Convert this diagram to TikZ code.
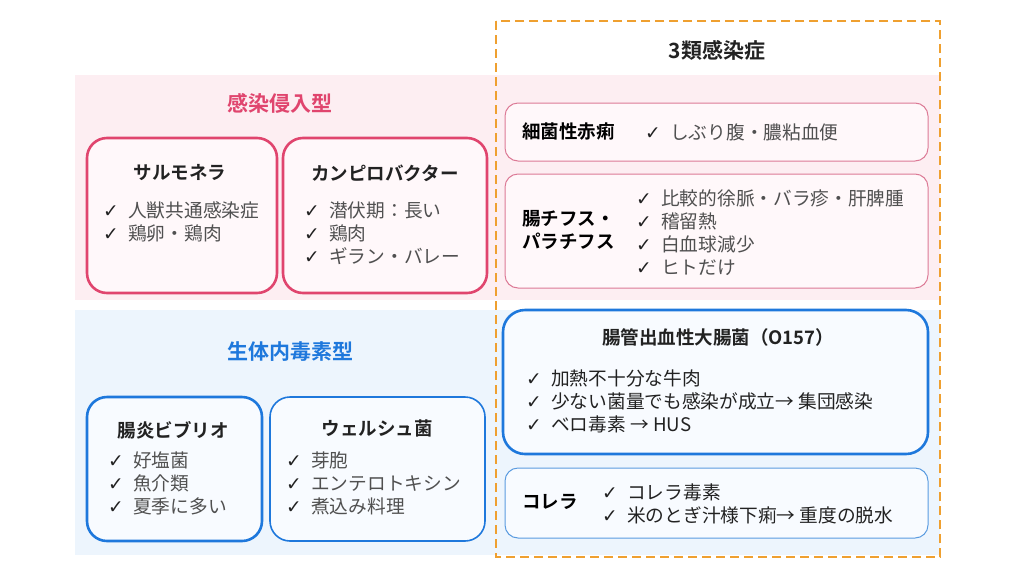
\documentclass[tikz,border=0pt]{standalone}
\usepackage{fontspec}
\setmainfont{Noto Sans CJK JP}[BoldFont={Noto Sans CJK JP Bold}]
\newfontfamily\chkfont{DejaVu Sans}
\definecolor{chkcol}{HTML}{222222}
\newcommand{\ck}{{\chkfont\color{chkcol}✓}\hspace{0.5em}}
\definecolor{pinkbg}{HTML}{FDEEF2}
\definecolor{bluebg}{HTML}{EDF5FD}
\definecolor{pinkln}{HTML}{E0456E}
\definecolor{pinkthin}{HTML}{DC7A96}
\definecolor{blueln}{HTML}{1E78DC}
\definecolor{bluethin}{HTML}{5A9BE0}
\definecolor{pinkfill}{HTML}{FFF8FA}
\definecolor{bluefill}{HTML}{F8FBFF}
\definecolor{orangeln}{HTML}{EFA030}
\definecolor{itemtxt}{HTML}{505050}
\definecolor{headtxt}{HTML}{222222}
\begin{document}
\begin{tikzpicture}[x=1pt,y=-1pt,
  pinkcard/.style={draw=pinkln,line width=2.6pt,fill=pinkfill,rounded corners=20pt},
  bluecard/.style={draw=blueln,line width=2.6pt,fill=bluefill,rounded corners=20pt},
  bluecardthin/.style={draw=blueln,line width=1.6pt,fill=bluefill,rounded corners=20pt},
  pinkrow/.style={draw=pinkthin,line width=1pt,fill=pinkfill,rounded corners=13pt},
  bluerow/.style={draw=bluethin,line width=1pt,fill=bluefill,rounded corners=13pt},
  bigbluecard/.style={draw=blueln,line width=2.6pt,fill=bluefill,rounded corners=22pt},
  sectitle/.style={font=\fontsize{21}{24}\selectfont\bfseries,inner sep=0pt},
  cardtitle/.style={font=\fontsize{18.5}{22}\selectfont\bfseries,text=headtxt,inner sep=0pt},
  items/.style={font=\fontsize{18.7}{23}\selectfont,text=itemtxt,align=left,anchor=west,inner sep=0pt},
  itemsdark/.style={items,text=headtxt},
  rowlabel/.style={font=\fontsize{18.5}{23}\selectfont\bfseries,text=black,align=left,anchor=west,inner sep=0pt},
  dashbox/.style={draw=orangeln,line width=2.4pt,dash pattern=on 9pt off 5pt}]
\useasboundingbox (0,0) rectangle (1024,576);
\fill[white] (0,0) rectangle (1024,576);
% bands
\fill[pinkbg] (75,75) rectangle (940,300);
\fill[bluebg] (75,310) rectangle (940,555);
% left top
\node[sectitle,text=pinkln] (t1) at (280,103) {感染侵入型};
\draw[pinkcard] (87,138) rectangle (277,293);
\draw[pinkcard] (283,138) rectangle (487,293);
\node[cardtitle] (sal) at (180,173) {サルモネラ};
\node[items] (salI) at (103,221.5) {\ck 人獣共通感染症\\\ck 鶏卵・鶏肉};
\node[cardtitle] (cam) at (385,173) {カンピロバクター};
\node[items] (camI) at (304,233) {\ck 潜伏期：長い\\\ck 鶏肉\\\ck ギラン・バレー};
% left bottom
\node[sectitle,text=blueln] (t2) at (290,352) {生体内毒素型};
\draw[bluecard] (87,397) rectangle (262,541);
\draw[bluecardthin] (270,397) rectangle (485,541);
\node[cardtitle] (vib) at (173,430) {腸炎ビブリオ};
\node[items] (vibI) at (108,483) {\ck 好塩菌\\\ck 魚介類\\\ck 夏季に多い};
\node[cardtitle] (wel) at (377,428) {ウェルシュ菌};
\node[items] (welI) at (286,483) {\ck 芽胞\\\ck エンテロトキシン\\\ck 煮込み料理};
% right
\node[sectitle,text=headtxt] (t3) at (717,50) {3類感染症};
\draw[pinkrow] (505,103) rectangle (928,161);
\node[rowlabel] (sek) at (522,132) {細菌性赤痢};
\node[items] (sekI) at (645,132) {\ck しぶり腹・膿粘血便};
\draw[pinkrow] (505,174) rectangle (928,288);
\node[rowlabel] (tyf) at (522,230) {腸チフス・\\パラチフス};
\node[items] (tyfI) at (636,232.5) {\ck 比較的徐脈・バラ疹・肝脾腫\\\ck 稽留熱\\\ck 白血球減少\\\ck ヒトだけ};
\draw[bigbluecard] (503,310) rectangle (928,454);
\node[cardtitle] (o157) at (718,337) {腸管出血性大腸菌（O157）};
\node[itemsdark] (o157I) at (526,401) {\ck 加熱不十分な牛肉\\\ck 少ない菌量でも感染が成立→ 集団感染\\\ck ベロ毒素 → HUS};
\draw[bluerow] (505,468) rectangle (928,538);
\node[rowlabel] (chol) at (522,502) {コレラ};
\node[itemsdark] (cholI) at (602,503.5) {\ck コレラ毒素\\\ck 米のとぎ汁様下痢→ 重度の脱水};
% dashed frame
\draw[dashbox] (496,21) rectangle (940,557);
\end{tikzpicture}
\end{document}
